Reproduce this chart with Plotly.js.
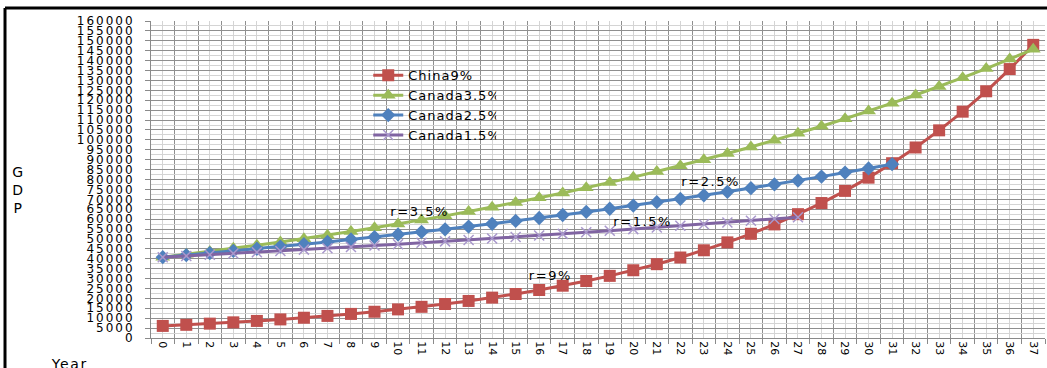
<!DOCTYPE html>
<html>
<head>
<meta charset="utf-8">
<script src="https://cdn.plot.ly/plotly-3.0.1.min.js"></script>
<style>
html,body{margin:0;padding:0;background:#fff;}
#chart{width:1047px;height:368px;}
#chart .ytick text{letter-spacing:2px;}
#chart .legendtext{letter-spacing:1px;}
#chart .annotation-text{letter-spacing:1.6px;}
</style>
</head>
<body>
<div id="chart"></div>
<script>
// Years (categories)
const years = [0,1,2,3,4,5,6,7,8,9,10,11,12,13,14,15,16,17,18,19,20,21,22,23,24,25,26,27,28,29,30,31,32,33,34,35,36,37];
const yearLabels = years.map(String);

// Series values
const china9 = [6100,6650,7250,7900,8610,9390,10230,11150,12160,13250,14440,15740,17160,18700,20380,22220,24220,26400,28770,31360,34190,37260,40620,44270,48260,52600,57340,62500,68120,74250,80930,88220,96160,104810,114240,124530,135730,147950];
const canada35 = [40800,42230,43710,45240,46820,48460,50150,51910,53730,55610,57550,59570,61650,63810,66040,68350,70750,73220,75790,78440,81180,84030,86970,90010,93160,96420,99800,103290,106900,110650,114520,118530,122670,126970,131410,136010,140770,145700];
const canada25 = [40800,41820,42870,43940,45040,46160,47320,48500,49710,50950,52230,53530,54870,56240,57650,59090,60570,62080,63630,65230,66860,68530,70240,72000,73800,75640,77530,79470,81460,83490,85580,87720];
const canada15 = [40800,41410,42030,42660,43300,43950,44610,45280,45960,46650,47350,48060,48780,49510,50260,51010,51770,52550,53340,54140,54950,55780,56610,57460,58320,59200,60090,60990];

const seriesNames = ["China9%","Canada3.5%","Canada2.5%","Canada1.5%"];
const annotationLabels = ["r=3.5%","r=2.5%","r=1.5%","r=9%"];

const yTicks = [];
for (let v = 0; v <= 160000; v += 5000) yTicks.push(v);
const boundaries = years.map(y => y - 0.5).concat([years[years.length-1] + 0.5]);

const FONT = "DejaVu Sans, Verdana, sans-serif";

const traces = [
  {x: years.slice(0, china9.length), y: china9, name: seriesNames[0], type: "scatter", mode: "lines+markers",
   line: {color: "#C0504D", width: 3}, marker: {symbol: "square", size: 12, color: "#C0504D"}},
  {x: years.slice(0, canada35.length), y: canada35, name: seriesNames[1], type: "scatter", mode: "lines+markers",
   line: {color: "#9BBB59", width: 3}, marker: {symbol: "triangle-up", size: 13, color: "#9BBB59"}},
  {x: years.slice(0, canada25.length), y: canada25, name: seriesNames[2], type: "scatter", mode: "lines+markers",
   line: {color: "#4F81BD", width: 3}, marker: {symbol: "diamond", size: 11, color: "#4F81BD"}},
  {x: years.slice(0, canada15.length), y: canada15, name: seriesNames[3], type: "scatter", mode: "lines+markers",
   line: {color: "#8064A2", width: 3}, marker: {symbol: "x-thin", size: 10, color: "#a998cc", line: {color: "#a998cc", width: 1.5}}}
];

const layout = {
  width: 1047, height: 368,
  margin: {l: 151, r: 2, t: 21, b: 30, pad: 0},
  paper_bgcolor: "#ffffff", plot_bgcolor: "#ffffff",
  font: {family: FONT, color: "#000000", size: 12},
  showlegend: true,
  legend: {x: 0.243, y: 0.876, xanchor: "left", yanchor: "top", bgcolor: "rgba(0,0,0,0)",
           font: {family: FONT, size: 13, color: "#000"}, tracegroupgap: 0, itemwidth: 30},
  xaxis: {
    type: "linear", range: [-0.5, 37.5], fixedrange: true,
    tickmode: "array", tickvals: years, ticktext: yearLabels, tickangle: 90,
    tickfont: {family: FONT, size: 11, color: "#000"},
    ticks: "", showgrid: true, gridcolor: "#d4d4d4", gridwidth: 1,
    zeroline: false, showline: true, linecolor: "#8a8a8a", linewidth: 1,
    minor: {tickmode: "array", tickvals: boundaries, ticks: "outside", ticklen: 5, tickcolor: "#8a8a8a",
            showgrid: true, gridcolor: "#8f8f8f", gridwidth: 1}
  },
  yaxis: {
    range: [0, 160000], fixedrange: true,
    tickmode: "array", tickvals: yTicks, ticktext: yTicks.map(String),
    tickfont: {family: FONT, size: 12, color: "#000"},
    ticks: "outside", ticklen: 5, tickcolor: "#8a8a8a", ticklabelstandoff: 8,
    showgrid: true, gridcolor: "#8f8f8f", gridwidth: 1,
    zeroline: false, showline: true, linecolor: "#8a8a8a", linewidth: 1,
    minor: {dtick: 2500, tick0: 0, showgrid: true, gridcolor: "#d4d4d4", gridwidth: 1, ticks: ""}
  },
  annotations: [
    {text: annotationLabels[0], x: 10.9, y: 63600, xref: "x", yref: "y", showarrow: false, xanchor: "center", yanchor: "middle", font: {family: FONT, size: 13}},
    {text: annotationLabels[1], x: 23.3, y: 78800, xref: "x", yref: "y", showarrow: false, xanchor: "center", yanchor: "middle", font: {family: FONT, size: 13}},
    {text: annotationLabels[2], x: 20.4, y: 59000, xref: "x", yref: "y", showarrow: false, xanchor: "center", yanchor: "middle", font: {family: FONT, size: 13}},
    {text: annotationLabels[3], x: 16.5, y: 31800, xref: "x", yref: "y", showarrow: false, xanchor: "center", yanchor: "middle", font: {family: FONT, size: 13}},
    {text: "G<br>D<br>P", x: -0.1477, y: 0.467, xref: "paper", yref: "paper", xanchor: "center", yanchor: "middle",
     showarrow: false, align: "center", font: {family: FONT, size: 14}},
    {text: "Year", x: -0.0917, y: -0.0505, xref: "paper", yref: "paper", xanchor: "center", yanchor: "top",
     showarrow: false, font: {family: FONT, size: 14}}
  ],
  shapes: [
    {type: "line", xref: "paper", yref: "paper", x0: -0.1633, x1: 1.01, y0: 1.041, y1: 1.041, line: {color: "#000", width: 3}},
    {type: "line", xref: "paper", yref: "paper", x0: -0.1633, x1: -0.1633, y0: 1.041, y1: -0.2, line: {color: "#000", width: 3}}
  ]
};

Plotly.newPlot("chart", traces, layout, {displayModeBar: false, staticPlot: true});
</script>
</body>
</html>
